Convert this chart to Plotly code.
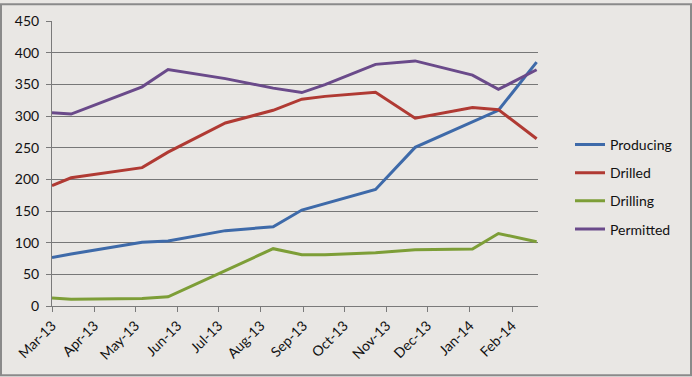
import plotly.graph_objects as go

dates = ["2013-03-01", "2013-03-15", "2013-05-06", "2013-05-25", "2013-07-06",
         "2013-08-10", "2013-08-31", "2013-09-17", "2013-10-24", "2013-11-22",
         "2014-01-03", "2014-01-22", "2014-02-19"]
producing = [76.5, 82, 100.5, 102.5, 119, 125, 151.5, 162, 184, 250.5, 291, 309, 385]
drilled = [190, 202.5, 218.5, 243, 289, 309, 326.5, 331, 337.5, 296.5, 313.5, 310, 264]
drilling = [12.5, 10.5, 12, 14.5, 56, 90.5, 81, 81, 84, 89, 90, 114.5, 101.5]
permitted = [305, 303, 346, 373.5, 359, 344, 337, 349.5, 381.5, 387, 364.5, 342, 373]

series_names = ["Producing", "Drilled", "Drilling", "Permitted"]
series_values = [producing, drilled, drilling, permitted]
colors = ["#3e6aa9", "#b03a33", "#7d9e37", "#6a4a8a"]

W, H = 692, 377
L, R, T, B = 52, 154, 18, 71
pw, ph = W - L - R, H - T - B

fig = go.Figure()
for i, (name, vals) in enumerate(zip(series_names, series_values)):
    fig.add_trace(go.Scatter(x=dates, y=vals, name=name, mode="lines",
                             line=dict(color=colors[i], width=3),
                             legendgroup=name))

font = dict(family="Lato, 'Open Sans', sans-serif", size=14, color="#111")

def px_x(p):
    return (p - L) / pw

def px_y(q):
    return (H - B - q) / ph

fig.add_shape(type="rect", xref="paper", yref="paper",
              x0=px_x(1), x1=px_x(W - 1), y0=px_y(H - 1), y1=px_y(1),
              line=dict(color="#8a8a8a", width=2), layer="below")

fig.update_layout(
    width=W, height=H, autosize=False,
    margin=dict(l=L, r=R, t=T, b=B),
    paper_bgcolor="#e9e7e4", plot_bgcolor="#e9e7e4",
    font=font,
    showlegend=True,
    legend=dict(x=px_x(570), y=px_y(127), xanchor="left", yanchor="top",
                bgcolor="rgba(0,0,0,0)", font=font, tracegroupgap=7,
                traceorder="grouped", itemwidth=30),
)
fig.update_xaxes(type="date", range=["2013-03-01", "2014-02-20"],
                 tick0="2013-03-01", dtick="M1", tickformat="%b-%y",
                 tickangle=-45, ticks="outside", ticklen=5, tickcolor="#7a7a7a",
                 showline=True, linecolor="#7a7a7a", linewidth=1, showgrid=False,
                 zeroline=False, tickfont=font)
fig.update_yaxes(range=[0, 450], dtick=50, ticks="outside", ticklen=5,
                 tickcolor="#7a7a7a", showline=True, linecolor="#7a7a7a",
                 linewidth=1, showgrid=True, gridcolor="#777777", gridwidth=1,
                 zeroline=False, tickfont=font, ticklabelstandoff=4)

fig.write_html("out.html", config={"displayModeBar": False},
               post_script="document.body.style.margin='0';document.body.style.background='#e9e7e4';")
